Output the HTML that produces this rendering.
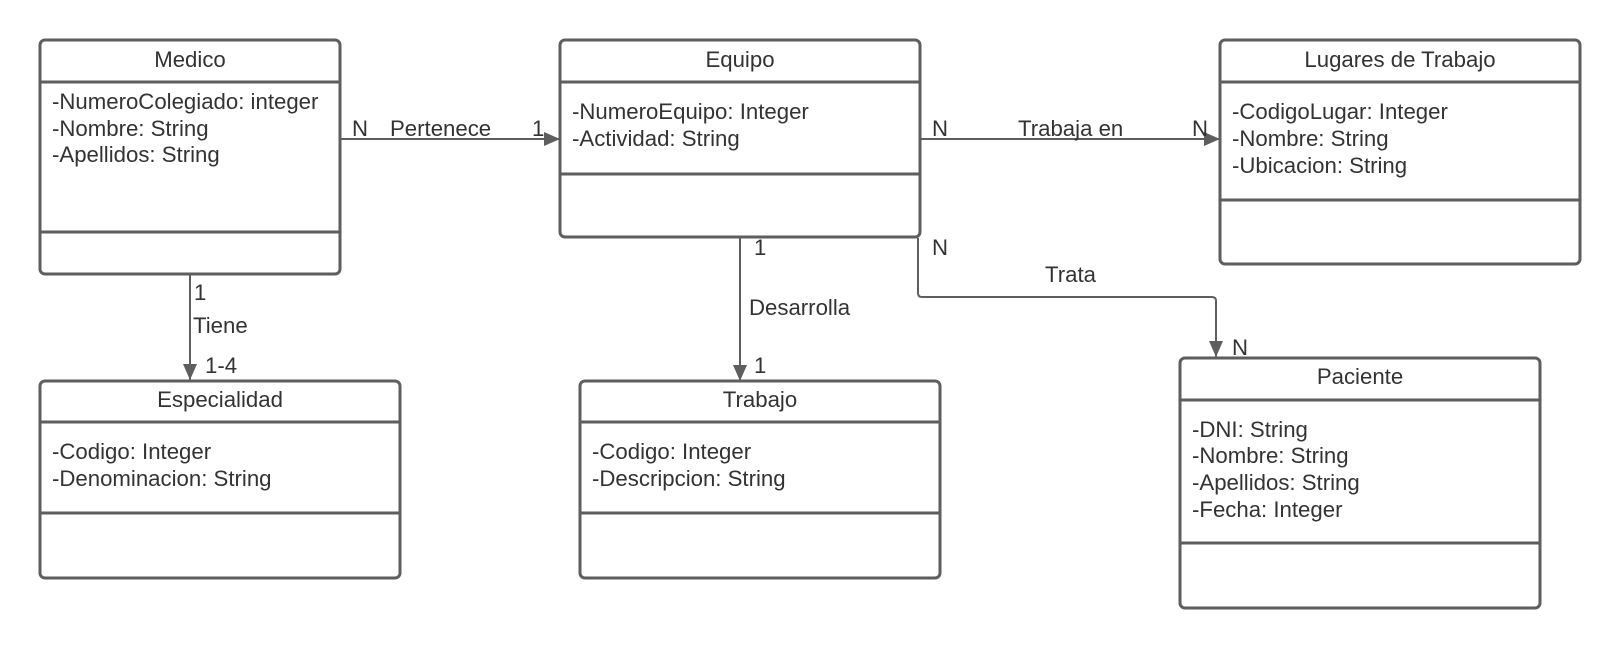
<!DOCTYPE html>
<html><head><meta charset="utf-8"><style>
html,body{margin:0;padding:0;background:#fff;}
svg{display:block;}
text{font-family:"Liberation Sans",Arial,sans-serif;fill:#333;font-size:22.2px;}
.b{fill:#fff;stroke:#5e5e5e;stroke-width:3;}
.l{stroke:#5e5e5e;stroke-width:3;}
.c{stroke:#5e5e5e;stroke-width:2;fill:none;}
</style></head><body>
<svg width="1620" height="649" viewBox="0 0 1620 649">
<defs>
<marker id="m" viewBox="0 0 16 14" refX="16" refY="7" markerWidth="16" markerHeight="14" markerUnits="userSpaceOnUse" orient="auto"><path d="M0,0 L16,7 L0,14 z" fill="#5e5e5e"/></marker></defs>

<line class="c" x1="340" y1="139" x2="560" y2="139" marker-end="url(#m)"/>
<line class="c" x1="920" y1="139" x2="1220" y2="139" marker-end="url(#m)"/>
<line class="c" x1="190" y1="275" x2="190" y2="380" marker-end="url(#m)"/>
<line class="c" x1="740" y1="238" x2="740" y2="381" marker-end="url(#m)"/>
<path class="c" d="M918,238 L918,293 Q918,297 922,297 L1212,297 Q1216,297 1216,301 L1216,357" marker-end="url(#m)"/>

<text x="352" y="136">N</text><text x="390" y="136">Pertenece</text><text x="532" y="136">1</text>
<text x="932" y="136">N</text><text x="1018" y="136">Trabaja en</text><text x="1192" y="136">N</text>
<text x="194" y="300">1</text><text x="193" y="333">Tiene</text><text x="205" y="373">1-4</text>
<text x="754" y="255">1</text><text x="749" y="315">Desarrolla</text><text x="754" y="373">1</text>
<text x="932" y="255">N</text><text x="1045" y="282">Trata</text><text x="1232" y="355">N</text>

<rect class="b" x="40" y="40" width="300" height="234" rx="5"/>
<line class="l" x1="40" y1="82" x2="340" y2="82"/><line class="l" x1="40" y1="232" x2="340" y2="232"/>
<text x="190" y="67" text-anchor="middle">Medico</text>
<text x="52" y="109">-NumeroColegiado: integer</text><text x="52" y="136">-Nombre: String</text><text x="52" y="162">-Apellidos: String</text>

<rect class="b" x="560" y="40" width="360" height="197" rx="5"/>
<line class="l" x1="560" y1="82" x2="920" y2="82"/><line class="l" x1="560" y1="174" x2="920" y2="174"/>
<text x="740" y="67" text-anchor="middle">Equipo</text>
<text x="572" y="119">-NumeroEquipo: Integer</text><text x="572" y="146">-Actividad: String</text>

<rect class="b" x="1220" y="40" width="360" height="224" rx="5"/>
<line class="l" x1="1220" y1="82" x2="1580" y2="82"/><line class="l" x1="1220" y1="200" x2="1580" y2="200"/>
<text x="1400" y="67" text-anchor="middle">Lugares de Trabajo</text>
<text x="1232" y="119">-CodigoLugar: Integer</text><text x="1232" y="146">-Nombre: String</text><text x="1232" y="173">-Ubicacion: String</text>

<rect class="b" x="40" y="381" width="360" height="197" rx="5"/>
<line class="l" x1="40" y1="422" x2="400" y2="422"/><line class="l" x1="40" y1="513" x2="400" y2="513"/>
<text x="220" y="407" text-anchor="middle">Especialidad</text>
<text x="52" y="459">-Codigo: Integer</text><text x="52" y="486">-Denominacion: String</text>

<rect class="b" x="580" y="381" width="360" height="197" rx="5"/>
<line class="l" x1="580" y1="422" x2="940" y2="422"/><line class="l" x1="580" y1="513" x2="940" y2="513"/>
<text x="760" y="407" text-anchor="middle">Trabajo</text>
<text x="592" y="459">-Codigo: Integer</text><text x="592" y="486">-Descripcion: String</text>

<rect class="b" x="1180" y="358" width="360" height="250" rx="5"/>
<line class="l" x1="1180" y1="400" x2="1540" y2="400"/><line class="l" x1="1180" y1="543" x2="1540" y2="543"/>
<text x="1360" y="384" text-anchor="middle">Paciente</text>
<text x="1192" y="437">-DNI: String</text><text x="1192" y="463">-Nombre: String</text><text x="1192" y="490">-Apellidos: String</text><text x="1192" y="517">-Fecha: Integer</text>
</svg>
</body></html>
